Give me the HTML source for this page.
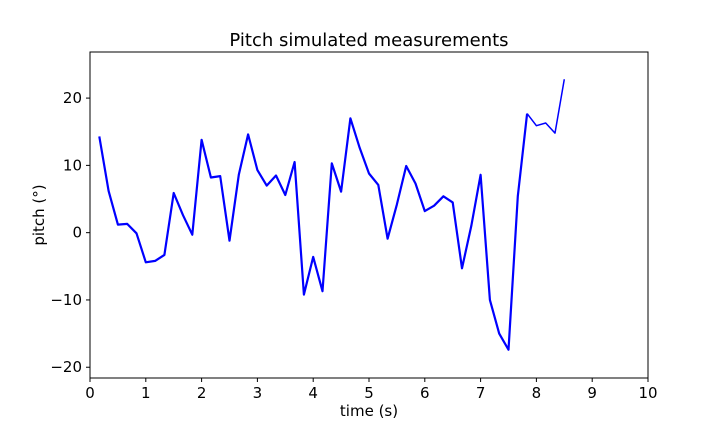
<!DOCTYPE html>
<html><head><meta charset="utf-8"><style>
body{margin:0;background:#fff;}
svg text{font-family:"DejaVu Sans","Liberation Sans",sans-serif;fill:#000;}
</style></head><body>
<svg width="720" height="432" xmlns="http://www.w3.org/2000/svg">
<rect x="0" y="0" width="720" height="432" fill="#fff"/>
<text x="369" y="46" font-size="18" text-anchor="middle">Pitch simulated measurements</text>
<g id="xticks"></g>
<g id="yticks"></g>
<g id="series"></g>
<rect x="90" y="52" width="558" height="326" fill="none" stroke="#000" stroke-width="1"/>
<text x="369" y="416" font-size="15" text-anchor="middle">time (s)</text>
<text x="44" y="215" font-size="15" text-anchor="middle" transform="rotate(-90 44 215)">pitch (°)</text>
</svg>
<script>
const xTicks=[0,1,2,3,4,5,6,7,8,9,10];
const yTicks=[-20,-10,0,10,20];
const times=[];
for(let i=1;i<=51;i++)times.push(i/6);
const pitch=[14.3,6.2,1.2,1.3,-0.1,-4.4,-4.2,-3.3,5.9,2.6,-0.3,13.8,8.2,8.4,-1.2,8.6,14.6,9.3,7.0,8.5,5.6,10.5,-9.2,-3.6,-8.7,10.3,6.1,17.0,12.6,8.8,7.1,-0.9,4.2,9.9,7.3,3.2,4.0,5.4,4.5,-5.3,1.0,8.6,-10.0,-15.0,-17.4,5.4,17.7,15.9,16.3,14.8,22.8];
const NS='http://www.w3.org/2000/svg';
const X0=90,X1=648,Y0=378,Y1=52,xmin=0,xmax=10,ymin=-21.6,ymax=26.85;
function sx(v){return X0+(v-xmin)/(xmax-xmin)*(X1-X0);}
function sy(v){return Y0-(v-ymin)/(ymax-ymin)*(Y0-Y1);}
function mk(t,a){const e=document.createElementNS(NS,t);for(const k in a)e.setAttribute(k,a[k]);return e;}
const gx=document.getElementById('xticks');
xTicks.forEach(v=>{
  const l=mk('line',{x1:sx(v),x2:sx(v),y1:Y0,y2:Y0+4,stroke:'#000'});
  
  
  gx.appendChild(l);
  const t=mk('text',{x:sx(v),y:Y0+20,'font-size':15,'text-anchor':'middle'});
  
  
  t.textContent=v;gx.appendChild(t);
});
const gy=document.getElementById('yticks');
yTicks.forEach(v=>{
  const l=mk('line',{x1:X0-4,x2:X0,y1:sy(v),y2:sy(v),stroke:'#000'});
  
  
  gy.appendChild(l);
  const t=mk('text',{x:X0-8,y:sy(v)+5,'font-size':15,'text-anchor':'end'});
  
  
  t.textContent=v<0?'\u2212'+Math.abs(v):v;gy.appendChild(t);
});
const gs=document.getElementById('series');
const pts=times.map((t,i)=>sx(t).toFixed(1)+','+sy(pitch[i]).toFixed(1));
const thick=mk('polyline',{points:pts.slice(0,47).join(' '),fill:'none',stroke:'#0000ff','stroke-width':2.2,'stroke-linejoin':'round'});


gs.appendChild(thick);
const thin=mk('polyline',{points:pts.slice(46).join(' '),fill:'none',stroke:'#0000ff','stroke-width':1.5,'stroke-linejoin':'round'});


gs.appendChild(thin);
</script>
</body></html>
